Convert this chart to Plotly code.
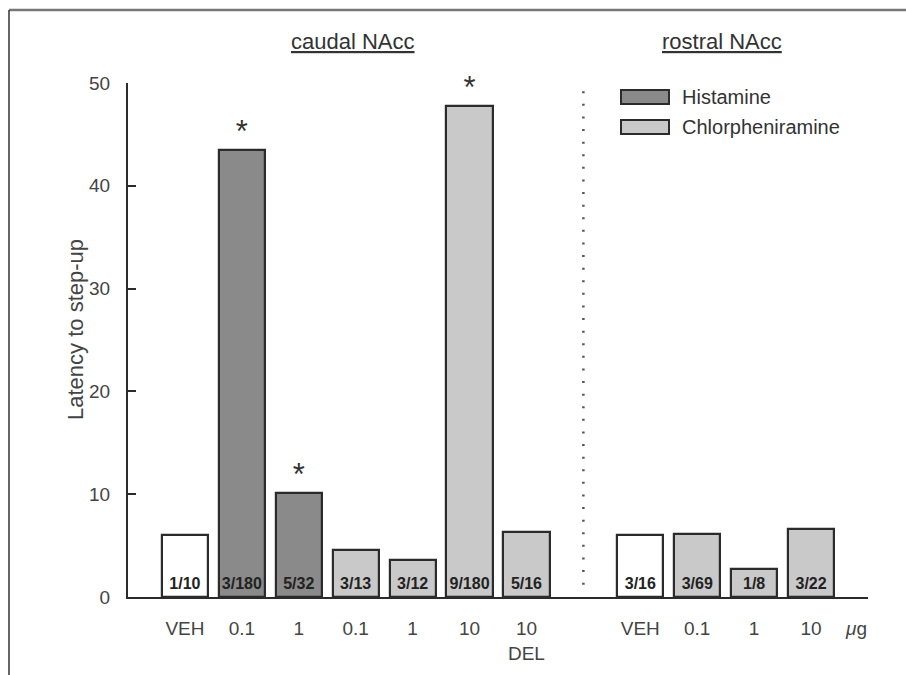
import plotly.graph_objects as go

# ---------------- data ----------------
veh_x = [0, 8]
veh_vals = [6.0, 6.0]
veh_counts = ["1/10", "3/16"]

hist_x = [1, 2]
hist_vals = [43.5, 10.1]
hist_counts = ["3/180", "5/32"]

chlor_x = [3, 4, 5, 6, 9, 10, 11]
chlor_vals = [4.6, 3.6, 47.8, 6.3, 6.1, 2.7, 6.6]
chlor_counts = ["3/13", "3/12", "9/180", "5/16", "3/69", "1/8", "3/22"]

star_x = [1, 2, 5]
star_vals = [43.5, 10.1, 47.8]

tick_vals = [0, 1, 2, 3, 4, 5, 6, 8, 9, 10, 11, 11.8]
tick_text = ["VEH", "0.1", "1", "0.1", "1", "10", "10<br>DEL",
             "VEH", "0.1", "1", "10", "<i>μ</i>g"]

divider_x = 7
group_titles = ["caudal NAcc", "rostral NAcc"]
legend_names = ["Histamine", "Chlorpheniramine"]

# ---------------- style ----------------
W, H = 906, 675
L, R, T, B = 128, 38, 83, 78
PW, PH = W - L - R, H - T - B
FONT = "Liberation Sans, Arial, Helvetica, sans-serif"
OUT = "#2b2b2b"
HIST_C = "#8a8a8a"
CHLOR_C = "#c9c9c9"
BAR_W = 0.81
LABEL_Y = 0.35


def px(x):
    return (x - L) / PW


def py(y):
    return (H - B - y) / PH


fig = go.Figure()
for xs, vals, col in [(veh_x, veh_vals, "white"),
                      (hist_x, hist_vals, HIST_C),
                      (chlor_x, chlor_vals, CHLOR_C)]:
    fig.add_trace(go.Bar(x=xs, y=vals, width=BAR_W, marker=dict(
        color=col, line=dict(color=OUT, width=2.2)), showlegend=False,
        hoverinfo="skip"))

# counts inside bars
all_x = veh_x + hist_x + chlor_x
fig.add_trace(go.Scatter(
    x=all_x, y=[LABEL_Y] * len(all_x),
    mode="text", text=veh_counts + hist_counts + chlor_counts,
    textposition="top center",
    textfont=dict(family=FONT, size=16, color="#222"),
    texttemplate="<b>%{text}</b>", showlegend=False, cliponaxis=False,
    hoverinfo="skip"))

# significance stars
fig.add_trace(go.Scatter(
    x=star_x, y=star_vals, mode="text", text=["*"] * len(star_x),
    textposition="top center",
    textfont=dict(family=FONT, size=31, color="#333"),
    showlegend=False, cliponaxis=False, hoverinfo="skip"))

shapes = [
    # dotted divider
    dict(type="line", xref="x", yref="y", x0=divider_x, x1=divider_x,
         y0=1.2, y1=49.5, line=dict(color="#555", width=2.5, dash="2px,10.6px")),
    # outer frame (top and left)
    dict(type="line", xref="paper", yref="paper", x0=px(9), x1=px(906),
         y0=py(10), y1=py(10), line=dict(color="#777", width=2.5)),
    dict(type="line", xref="paper", yref="paper", x0=px(9), x1=px(9),
         y0=py(10), y1=py(675), line=dict(color="#333", width=1.5)),
    # legend swatches
    dict(type="rect", xref="paper", yref="paper", x0=px(621), x1=px(669),
         y0=py(104), y1=py(90), fillcolor=HIST_C, line=dict(color=OUT, width=2)),
    dict(type="rect", xref="paper", yref="paper", x0=px(621), x1=px(669),
         y0=py(134), y1=py(120), fillcolor=CHLOR_C, line=dict(color=OUT, width=2)),
]


def ann(text, x, y, size, xanchor="center", angle=0, color="#333"):
    return dict(text=text, xref="paper", yref="paper", x=px(x), y=py(y),
                xanchor=xanchor, yanchor="middle", textangle=angle,
                showarrow=False, font=dict(family=FONT, size=size, color=color))


annotations = [
    ann(f"<u>{group_titles[0]}</u>", 353, 41, 22),
    ann(f"<u>{group_titles[1]}</u>", 722, 41, 22),
    ann(legend_names[0], 680, 97, 20, xanchor="left"),
    ann(legend_names[1], 680, 127, 20, xanchor="left"),
    ann("Latency to step-up", 75, 330, 22, angle=-90, color="#444"),
]

fig.update_layout(
    width=W, height=H, margin=dict(l=L, r=R, t=T, b=B, autoexpand=False),
    paper_bgcolor="white", plot_bgcolor="white",
    font=dict(family=FONT, color="#444"),
    shapes=shapes, annotations=annotations, bargap=0,
    xaxis=dict(range=[-1, 12], showgrid=False, zeroline=False, showline=True,
               linecolor=OUT, linewidth=2, tickvals=tick_vals,
               ticktext=tick_text, ticks="outside", ticklen=13,
               tickcolor="rgba(0,0,0,0)", tickfont=dict(size=19, color="#444")),
    yaxis=dict(range=[0, 50], showgrid=False, zeroline=False, showline=True,
               linecolor=OUT, linewidth=2, tickvals=[0, 10, 20, 30, 40, 50],
               ticks="inside", ticklen=8, tickwidth=2, tickcolor=OUT,
               ticklabelstandoff=12, tickfont=dict(size=19, color="#444")),
)

fig.write_html("out.html", config={"displayModeBar": False},
               post_script="document.body.style.margin='0';"
                           "document.body.style.overflow='hidden';")
